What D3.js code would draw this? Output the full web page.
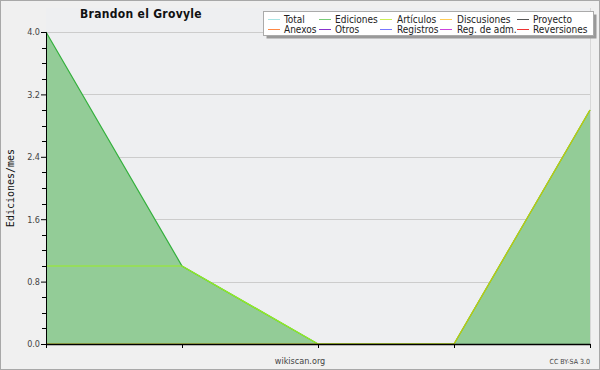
<!DOCTYPE html>
<html>
<head>
<meta charset="utf-8">
<script src="https://cdn.jsdelivr.net/npm/d3@7"></script>
<style>
  body { margin: 0; background: #f0f0f0; }
  svg { display: block; }
</style>
</head>
<body>
<div id="chart"></div>
<script>
// monthly data, one point per month
const months = [0, 1, 2, 3, 4];
const ediciones = [4, 1, 0, 0, 3];
const articulos = [1, 1, 0, 0, 3];
const discusiones = [0, 0, 0, 0, 3];

const yTicks = [0, 0.8, 1.6, 2.4, 3.2, 4.0];

const legendNames = ["Total", "Ediciones", "Artículos", "Discusiones", "Proyecto",
                     "Anexos", "Otros", "Registros", "Reg. de adm.", "Reversiones"];
const legendColors = ["#a8e4e4", "#77cc77", "#ccee55", "#ffcc55", "#555555",
                      "#ff8844", "#8833cc", "#7777ff", "#cc44dd", "#ee3333"];

const width = 600;
const height = 370;
const plotLeft = 46, plotRight = 590, plotTop = 32, plotBottom = 344;

const svg = d3.select("#chart")
  .append("svg")
  .attr("width", width)
  .attr("height", height);

// outer background + border
svg.append("rect")
  .attr("x", 0.5).attr("y", 0.5)
  .attr("width", width - 1).attr("height", height - 1)
  .attr("fill", "#f0f0f0")
  .attr("stroke", "#a8a8a8");

// plot background
svg.append("rect")
  .attr("x", plotLeft).attr("y", 8)
  .attr("width", plotRight - plotLeft).attr("height", plotBottom - 8)
  .attr("fill", "#eeeff1");

svg.append("line")
  .attr("x1", plotRight + 0.5).attr("x2", plotRight + 0.5)
  .attr("y1", 8).attr("y2", plotBottom)
  .attr("stroke", "#d8d8d8");

const x = d3.scaleLinear().domain([0, 4]).range([plotLeft, plotRight]);
const y = d3.scaleLinear().domain([0, 4]).range([plotBottom, plotTop]);

// grid lines
svg.append("g")
  .selectAll("line")
  .data(yTicks.filter(d => d > 0))
  .join("line")
    .attr("x1", plotLeft).attr("x2", plotRight)
    .attr("y1", d => Math.round(y(d)) + 0.5)
    .attr("y2", d => Math.round(y(d)) + 0.5)
    .attr("stroke", "#cccccc");

// edits area
const area = d3.area()
  .x((d, i) => x(months[i]))
  .y0(y(0))
  .y1(d => y(d));

svg.append("path")
  .datum(ediciones)
  .attr("d", area)
  .attr("fill", "#93cc97");

const line = d3.line()
  .x((d, i) => x(months[i]))
  .y(d => y(d));

svg.append("path")
  .datum(ediciones)
  .attr("d", line)
  .attr("fill", "none")
  .attr("stroke", "#33b03c")
  .attr("stroke-width", 1.2);

svg.append("path")
  .datum(articulos)
  .attr("d", line)
  .attr("fill", "none")
  .attr("stroke", "#99ee22")
  .attr("stroke-width", 1.2);

svg.append("path")
  .datum(discusiones)
  .attr("d", line)
  .attr("fill", "none")
  .attr("stroke", "#ccbb11")
  .attr("stroke-width", 1);

// y axis
const yAxis = d3.axisLeft(y)
  .tickValues(yTicks)
  .tickFormat(d3.format(".1f"))
  .tickSize(5)
  .tickPadding(1);

const gy = svg.append("g")
  .attr("transform", `translate(${plotLeft},0)`)
  .call(yAxis);
gy.select(".domain").attr("stroke", "#000");
gy.selectAll(".tick line").attr("stroke", "#000");
gy.selectAll(".tick text")
  .attr("fill", "#444")
  .style("font-family", "DejaVu Sans Condensed")
  .style("font-size", "9px");

// minor ticks every 0.2
gy.append("g")
  .selectAll("line")
  .data(d3.range(0, 21).map(i => i * 0.2).filter((d, i) => i % 4 != 0))
  .join("line")
    .attr("x1", -4).attr("x2", 0.5)
    .attr("y1", d => Math.round(y(d)) + 0.5)
    .attr("y2", d => Math.round(y(d)) + 0.5)
    .attr("stroke", "#000");

// x axis
const xAxis = d3.axisBottom(x)
  .tickValues(months)
  .tickFormat("")
  .tickSize(4)
  .tickSizeOuter(0);

const gx = svg.append("g")
  .attr("transform", `translate(0,${plotBottom})`)
  .call(xAxis);
gx.select(".domain").attr("stroke", "#000").attr("stroke-width", 1.5);
gx.selectAll(".tick line").attr("stroke", "#000");

// title
svg.append("text")
  .attr("x", 141).attr("y", 18)
  .attr("text-anchor", "middle")
  .style("font-family", "DejaVu Sans Condensed")
  .style("font-weight", "bold")
  .style("font-size", "12px")
  .style("letter-spacing", "0.3px")
  .attr("fill", "#111")
  .text("Brandon el Grovyle");

// y label
svg.append("text")
  .attr("transform", "translate(14,188) rotate(-90)")
  .attr("text-anchor", "middle")
  .style("font-family", "DejaVu Sans Mono")
  .style("font-size", "10px")
  .attr("fill", "#111")
  .text("Ediciones/mes");

svg.append("text")
  .attr("x", 300).attr("y", 364)
  .attr("text-anchor", "middle")
  .style("font-family", "DejaVu Sans Condensed")
  .style("font-size", "9px")
  .attr("fill", "#444")
  .text("wikiscan.org");

svg.append("text")
  .attr("x", 590).attr("y", 364)
  .attr("text-anchor", "end")
  .style("font-family", "DejaVu Sans Condensed")
  .style("font-size", "7px")
  .attr("fill", "#444")
  .text("CC BY-SA 3.0");

// legend
const lg = svg.append("g");
lg.append("rect")
  .attr("x", 266.5).attr("y", 14.5)
  .attr("width", 330).attr("height", 24)
  .attr("fill", "#999");
lg.append("rect")
  .attr("x", 263.5).attr("y", 11.5)
  .attr("width", 330).attr("height", 24)
  .attr("fill", "#fff")
  .attr("stroke", "#aaa");

const colX = [268, 319, 380, 440, 517];
const textX = [284, 335, 397, 457, 533];

const items = lg.selectAll("g.item")
  .data(legendNames)
  .join("g")
    .attr("class", "item")
    .attr("transform", (d, i) => `translate(0,${i < 5 ? 19 : 29})`);

items.append("line")
  .attr("x1", (d, i) => colX[i % 5])
  .attr("x2", (d, i) => colX[i % 5] + 12)
  .attr("y1", 0.5).attr("y2", 0.5)
  .attr("stroke", (d, i) => legendColors[i]);

items.append("text")
  .attr("x", (d, i) => textX[i % 5])
  .attr("y", 4)
  .style("font-family", "DejaVu Sans Condensed")
  .style("font-size", "10px")
  .attr("fill", "#222")
  .text(d => d);
</script>
</body>
</html>
